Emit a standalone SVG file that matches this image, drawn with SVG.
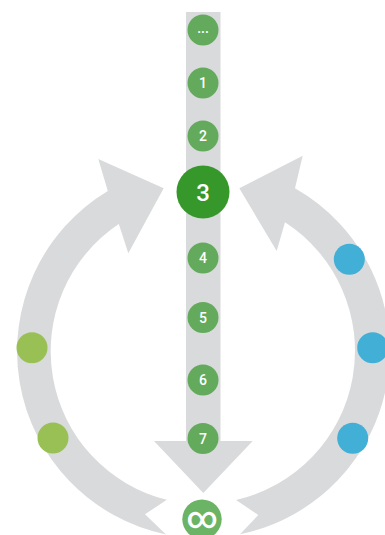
<svg xmlns="http://www.w3.org/2000/svg" width="385" height="535" viewBox="0 0 385 535">
<style>
.band{fill:#d9dadc}
.step{fill:#64aa5c}
.lbl{fill:#ffffff;font-family:Roboto,"Liberation Sans",sans-serif;font-weight:500;font-size:14px;text-anchor:middle}
.big{fill:#36982b}
.lg{fill:#99c055}
.bl{fill:#42afd6}
</style>
<rect width="385" height="535" fill="#ffffff"/>
<g id="connectors">
<path id="left-cycle" class="band" d="M166.8,499.8 L145,514.3 L166,534.4 A187,187 0 0 1 107.8,191 L98.3,159 L163.7,188.3 L128.3,253.3 L118.8,224 A153,153 0 0 0 166.8,499.8 Z"/>
<path id="right-cycle" class="band" d="M236,500 L258.3,515 L240,534.2 A187,187 0 0 0 295,188.3 L302.7,155.7 L239.3,188.3 L276.7,251 L285,222.3 A153,153 0 0 1 236,500 Z"/>
<path id="main-flow" class="band" d="M186,12 L220.5,12 L220.5,441 L252.7,441 L203.3,493 L154,441 L186,441 Z"/>
</g>
<g id="node-more"><circle class="step" cx="203" cy="30" r="15.5"/><text class="lbl" x="203" y="33" font-size="13">...</text></g>
<g id="node-1"><circle class="step" cx="203" cy="83" r="15.5"/><text class="lbl" x="203" y="88">1</text></g>
<g id="node-2"><circle class="step" cx="203" cy="136" r="15.5"/><text class="lbl" x="203" y="141">2</text></g>
<g id="node-3"><circle class="big" cx="203" cy="192" r="26.5"/><text class="lbl" x="203" y="200.5" style="font-size:24px">3</text></g>
<g id="node-4"><circle class="step" cx="203" cy="258" r="15.5"/><text class="lbl" x="203" y="263">4</text></g>
<g id="node-5"><circle class="step" cx="203" cy="317.5" r="15.5"/><text class="lbl" x="203" y="322.5">5</text></g>
<g id="node-6"><circle class="step" cx="203" cy="380" r="15.5"/><text class="lbl" x="203" y="385">6</text></g>
<g id="node-7"><circle class="step" cx="203" cy="438.5" r="15.5"/><text class="lbl" x="203" y="443.5">7</text></g>
<g id="node-infinity"><circle fill="#6cb465" cx="202" cy="519.3" r="19.7"/><text class="lbl" x="202" y="528" style="font-size:30px;font-weight:500">∞</text></g>
<g id="node-green-a"><circle class="lg" cx="32" cy="347.7" r="15.5"/></g>
<g id="node-green-b"><circle class="lg" cx="53" cy="438" r="15.5"/></g>
<g id="node-blue-a"><circle class="bl" cx="349.3" cy="259.3" r="15.5"/></g>
<g id="node-blue-b"><circle class="bl" cx="372.7" cy="347.7" r="15.5"/></g>
<g id="node-blue-c"><circle class="bl" cx="352.7" cy="438.3" r="15.5"/></g>
</svg>
